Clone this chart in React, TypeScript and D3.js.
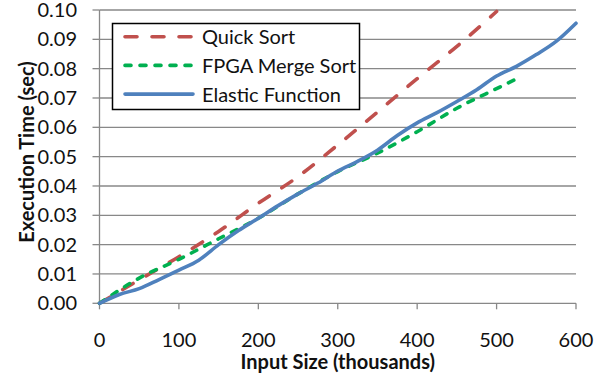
import React from "react";
import * as d3 from "d3";

const xTicks = [0, 100, 200, 300, 400, 500, 600];
const yTicks = [0, 0.01, 0.02, 0.03, 0.04, 0.05, 0.06, 0.07, 0.08, 0.09, 0.1];

const quickX = [0, 50, 100, 150, 200, 250, 300, 350, 400, 450, 500];
const quickY = [0, 0.008, 0.0159, 0.0245, 0.0341, 0.0432, 0.054, 0.0652, 0.0766, 0.0876, 0.0995];

const fpgaX = [0, 50, 100, 150, 200, 250, 300, 350, 400, 450, 500, 525];
const fpgaY = [0, 0.0086, 0.015, 0.022, 0.029, 0.0373, 0.0449, 0.0512, 0.0585, 0.0665, 0.0732, 0.0765];

const elasticX = [0, 25, 50, 75, 100, 125, 150, 175, 200, 225, 250, 275, 300, 325, 350, 375, 400, 425, 450, 475, 500, 525, 550, 575, 600];
const elasticY = [0, 0.003, 0.005, 0.0081, 0.0113, 0.0147, 0.02, 0.0248, 0.029, 0.0333, 0.0373, 0.041, 0.0451, 0.0484, 0.0522, 0.0572, 0.0615, 0.065, 0.0688, 0.0728, 0.0775, 0.0808, 0.0848, 0.0893, 0.0955];

const seriesNames = ["Quick Sort", "FPGA Merge Sort", "Elastic Function"];
const colors = ["#C0504D", "#00B050", "#4F81BD"];
const dashes = ["12,15", "6,9", "none"];

const W = 604;
const H = 383;
const FONT = "Lato, 'Open Sans', sans-serif";

export default function App() {
  const x = d3.scaleLinear().domain([0, 600]).range([99.5, 576]);
  const y = d3.scaleLinear().domain([0, 0.1]).range([303.3, 10]);
  const line = d3
    .line<[number, number]>()
    .x((d) => x(d[0]))
    .y((d) => y(d[1]))
    .curve(d3.curveMonotoneX);

  const series = [
    quickX.map((v, i) => [v, quickY[i]] as [number, number]),
    fpgaX.map((v, i) => [v, fpgaY[i]] as [number, number]),
    elasticX.map((v, i) => [v, elasticY[i]] as [number, number]),
  ];

  const x0 = x(0);
  const x1 = x(600);
  const yb = y(0);

  return (
    <svg
      width={W}
      height={H}
      style={{ position: "absolute", left: 0, top: 0, background: "#fff" }}
    >
      {yTicks.map((t) => (
        <line key={"g" + t} x1={x0} x2={x1} y1={y(t)} y2={y(t)} stroke="#888" strokeWidth={1.3} />
      ))}
      <line x1={x0} x2={x0} y1={y(0.1)} y2={yb} stroke="#888" strokeWidth={1.3} />
      {yTicks.map((t) => (
        <line key={"yt" + t} x1={x0 - 7} x2={x0} y1={y(t)} y2={y(t)} stroke="#888" strokeWidth={1.3} />
      ))}
      {yTicks.map((t) => (
        <text
          key={"yl" + t}
          x={77}
          y={y(t) + 7}
          textAnchor="end"
          fontFamily={FONT}
          fontSize={20}
          fill="#111"
        >
          {d3.format(".2f")(t)}
        </text>
      ))}
      {xTicks.map((t) => (
        <line key={"xt" + t} x1={x(t)} x2={x(t)} y1={yb} y2={yb + 6} stroke="#888" strokeWidth={1.3} />
      ))}
      {xTicks.map((t) => (
        <text
          key={"xl" + t}
          x={x(t)}
          y={347}
          textAnchor="middle"
          fontFamily={FONT}
          fontSize={20}
          fill="#111"
        >
          {t}
        </text>
      ))}
      <text
        x={(x0 + x1) / 2}
        y={369}
        textAnchor="middle"
        fontFamily={FONT}
        fontWeight="bold"
        fontSize={20}
        fill="#111"
      >
        Input Size (thousands)
      </text>
      <text
        transform={`translate(26,152) rotate(-90)`}
        textAnchor="middle"
        dominantBaseline="central"
        fontFamily={FONT}
        fontWeight="bold"
        fontSize={20}
        fill="#111"
      >
        Execution Time (sec)
      </text>
      {series.map((s, i) => (
        <path
          key={"s" + i}
          d={line(s) || ""}
          fill="none"
          stroke={colors[i]}
          strokeWidth={3.6}
          strokeDasharray={dashes[i]}
          strokeLinecap="round"
          strokeLinejoin="round"
        />
      ))}
      <rect x={112.5} y={23.5} width={247} height={86} fill="#fff" stroke="#000" strokeWidth={1.5} />
      {seriesNames.map((n, i) => {
        const ry = 36.7 + i * 28.7;
        return (
          <g key={"lg" + i}>
            <line
              x1={125}
              x2={193}
              y1={ry}
              y2={ry}
              stroke={colors[i]}
              strokeWidth={3.6}
              strokeDasharray={dashes[i]}
              strokeLinecap="round"
            />
            <text
              x={202}
              y={ry + 7.5}
              fontFamily={FONT}
              fontSize={20}
              fill="#111"
            >
              {n}
            </text>
          </g>
        );
      })}
    </svg>
  );
}
